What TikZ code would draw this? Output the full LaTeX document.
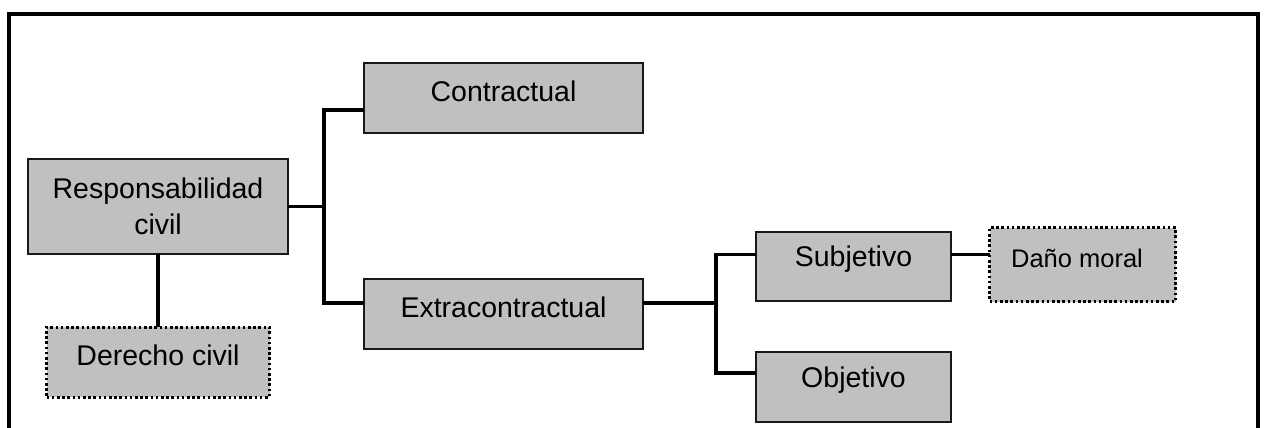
\documentclass[tikz,border=0pt]{standalone}
\usepackage{fontspec}
\setmainfont{Liberation Sans}
\definecolor{boxgray}{HTML}{C0C0C0}
\begin{document}
\begin{tikzpicture}[x=1pt,y=-1pt,
  box/.style={draw=black!90, line width=2pt, fill=boxgray, inner sep=0pt, outer sep=0pt},
  dotbox/.style={box, draw=black, line width=3pt, dash pattern=on 2.6pt off 2.6pt},
  txt/.style={font=\fontsize{28.5}{36}\selectfont, align=center, inner sep=0pt},
  small/.style={font=\fontsize{25.5}{30}\selectfont, align=center, inner sep=0pt},
  conn/.style={line width=3.5pt}]
\useasboundingbox (0,0) rectangle (1267,428);
% frame (open at the bottom)
\coordinate (f1) at (9,428); \coordinate (f2) at (9,14);
\coordinate (f3) at (1258,14); \coordinate (f4) at (1258,428);
\draw[line width=4pt] (f1) -- (f2) -- (f3) -- (f4);
% boxes
\node[box, minimum width=260pt, minimum height=95pt] (resp) at (158,206.5) {};
\node[txt] (respT) at (158,206) {Responsabilidad\\civil};
\node[dotbox, minimum width=223pt, minimum height=70pt] (der) at (158,362) {};
\node[txt] (derT) at (158,355) {Derecho civil};
\node[box, minimum width=279pt, minimum height=70pt] (contr) at (503.5,98) {};
\node[txt] (contrT) at (503.5,91) {Contractual};
\node[box, minimum width=279pt, minimum height=70pt] (extra) at (503.5,314) {};
\node[txt] (extraT) at (503.5,307) {Extracontractual};
\node[box, minimum width=195pt, minimum height=69pt] (subj) at (853.5,266.5) {};
\node[txt] (subjT) at (853.5,259) {Subjetivo};
\node[box, minimum width=195pt, minimum height=70pt] (obj) at (853.5,387) {};
\node[txt] (objT) at (853.5,380) {Objetivo};
\node[dotbox, minimum width=186pt, minimum height=74pt] (dano) at (1082.5,264.5) {};
\node[small] (danoT) at (1077,258) {Daño moral};
% connectors
\draw[conn] (resp.east) -- ++(36,0) coordinate (j1) |- ([yshift=-12pt]contr.west);
\draw[conn] (j1) |- ([yshift=11pt]extra.west);
\draw[conn] (resp.south) -- (der.north);
\draw[conn] ([yshift=11pt]extra.east) -- ++(73,0) coordinate (j2) |- ([yshift=12pt]subj.west);
\draw[conn] (j2) |- ([yshift=14pt]obj.west);
\draw[conn] ([yshift=12pt]subj.east) -- ([yshift=10pt]dano.west);
\end{tikzpicture}
\end{document}
